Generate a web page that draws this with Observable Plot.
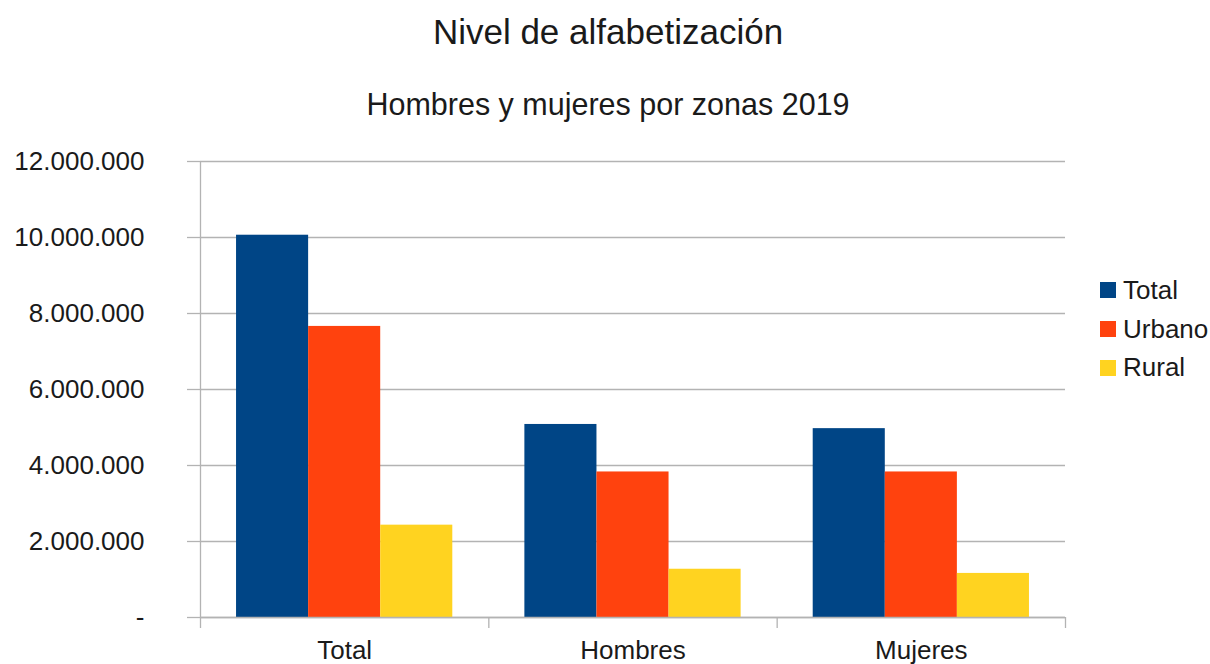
<!DOCTYPE html>
<html>
<head>
<meta charset="utf-8">
<script src="https://cdn.jsdelivr.net/npm/d3@7"></script>
<script src="https://cdn.jsdelivr.net/npm/@observablehq/plot@0.6"></script>
<style>
  html, body { margin: 0; padding: 0; background: #fff; }
  body { width: 1210px; height: 664px; overflow: hidden; font-family: "Liberation Sans", Arial, sans-serif; color: #1a1a1a; }
  #wrap { position: relative; width: 1210px; height: 664px; }
  #title { position: absolute; left: 0; width: 1216px; top: 12px; text-align: center; font-size: 35px; line-height: 40px; }
  #subtitle { position: absolute; left: 0; width: 1216px; top: 87px; text-align: center; font-size: 30.5px; line-height: 34px; }
  #legend { position: absolute; left: 1100px; top: 271px; font-size: 26px; }
  #legend .item { display: flex; align-items: center; height: 38.7px; }
  #legend .sw { width: 16px; height: 16px; margin-right: 7px; }
  #chart { position: absolute; left: 0; top: 0; }
</style>
</head>
<body>
<div id="wrap">
  <div id="chart"></div>
  <div id="title">Nivel de alfabetización</div>
  <div id="subtitle">Hombres y mujeres por zonas 2019</div>
  <div id="legend"></div>
</div>
<script>
// Categories (groups along the x axis)
const groups = ["Total", "Hombres", "Mujeres"];
// Series
const series = ["Total", "Urbano", "Rural"];
const seriesColors = ["#004586", "#ff420e", "#ffd320"];
// Series values (per group)
const totalValues  = [10060000, 5080000, 4970000];
const urbanoValues = [7660000, 3830000, 3830000];
const ruralValues  = [2430000, 1270000, 1160000];
// Y tick values
const yTicks = [0, 2000000, 4000000, 6000000, 8000000, 10000000, 12000000];

const valuesBySeries = [totalValues, urbanoValues, ruralValues];
const rows = groups.flatMap((g, gi) => series.map((s, si) => ({group: g, gi, series: s, si, value: valuesBySeries[si][gi]})));

const groupFill = 0.75;            // fraction of each group occupied by bars
const barW = groupFill / series.length;
const left0 = (1 - groupFill) / 2;

const fmt = d => d === 0 ? "-" : d3.format(",")(d).replace(/,/g, ".");
const grid = "#b3b3b3";
const ink = "#1a1a1a";

const chart = Plot.plot({
  width: 1210,
  height: 664,
  marginLeft: 200,
  marginRight: 145,
  marginTop: 161,
  marginBottom: 47,
  style: {fontFamily: "Liberation Sans, Arial, sans-serif", background: "transparent", color: ink},
  x: {type: "linear", domain: [0, groups.length], axis: null},
  y: {domain: [0, 12000000], axis: null},
  color: {domain: series, range: seriesColors},
  marks: [
    Plot.gridY(yTicks, {stroke: grid, strokeOpacity: 1, strokeWidth: 1.3}),
    Plot.rectY(rows, {
      x1: d => d.gi + left0 + d.si * barW,
      x2: d => d.gi + left0 + (d.si + 1) * barW,
      y: "value",
      fill: "series"
    }),
    Plot.ruleY([0], {stroke: grid, strokeWidth: 1.3}),
    Plot.ruleX([0], {stroke: grid, strokeWidth: 1.3}),
    Plot.axisY({ticks: yTicks, tickFormat: fmt, tickSize: 13, tickPadding: 43, fontSize: 26, stroke: grid, strokeWidth: 1.3, fill: ink, label: null}),
    Plot.axisX({ticks: d3.range(groups.length + 1), tickFormat: () => "", tickSize: 11, stroke: grid, strokeWidth: 1.3, label: null}),
    Plot.axisX({ticks: groups.map((g, i) => i + 0.5), tickFormat: v => groups[Math.floor(v)], tickSize: 0, tickPadding: 23, fontSize: 26, fill: ink, label: null})
  ]
});
document.getElementById("chart").appendChild(chart);

const legend = document.getElementById("legend");
series.forEach((s, i) => {
  const item = document.createElement("div");
  item.className = "item";
  const sw = document.createElement("div");
  sw.className = "sw";
  sw.style.background = seriesColors[i];
  const label = document.createElement("span");
  label.textContent = s;
  item.appendChild(sw);
  item.appendChild(label);
  legend.appendChild(item);
});
</script>
</body>
</html>
